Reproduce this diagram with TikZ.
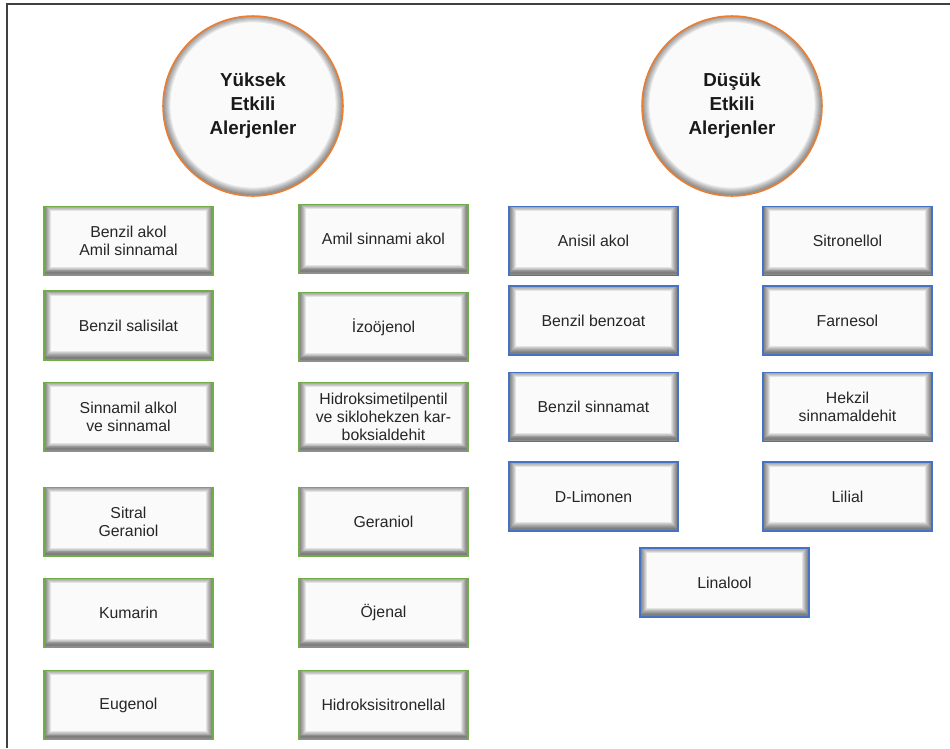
\documentclass[tikz,border=0pt]{standalone}
\usepackage{fontspec}
\setmainfont{Liberation Sans}
\definecolor{hiGreen}{HTML}{70AD47}
\definecolor{loBlue}{HTML}{4472C4}
\definecolor{ringOrange}{HTML}{ED7D31}
\definecolor{frameGray}{HTML}{404040}

\begin{document}
\begin{tikzpicture}[x=0.02cm,y=-0.02cm,
    boxglow/.style={path picture={
        \foreach \w in {1,...,7}
          \draw[black,opacity=0.09,line width=\w*1.1pt]
            ([yshift=1.2pt]path picture bounding box.south west) rectangle
            ([yshift=1.2pt]path picture bounding box.north east);
    }},
    ringglow/.style={path picture={
        \foreach \w in {1,...,7}
          \draw[black,opacity=0.07,line width=\w*1.2pt]
            ([yshift=0.6pt]path picture bounding box.center) circle (1.8cm);
    }},
    chem/.style={rectangle,draw,line width=0.9pt,fill=black!2,
        minimum width=3.38cm,minimum height=1.38cm,inner sep=1pt,
        align=center,text=black!85,font=\fontsize{9}{10.4}\selectfont,boxglow},
    highbox/.style={chem,draw=hiGreen},
    lowbox/.style={chem,draw=loBlue},
    group/.style={circle,draw=ringOrange,line width=0.9pt,fill=black!2,
        minimum size=3.6cm,align=center,text=black!90,
        font=\fontsize{10.7}{13.6}\selectfont\bfseries,ringglow}]

    \useasboundingbox (0,0) rectangle (950,748);

    % frame
    \draw[frameGray,line width=0.9pt] (950,4) -- (7,4) -- (7,748);

    % groups
    \node[group] (yuksek) at (253,106) {Yüksek\\Etkili\\Alerjenler};
    \node[group] (dusuk) at (732,106) {Düşük\\Etkili\\Alerjenler};

    % high impact, first column
    \node[highbox] (benzilakol) at (128.5,241) {Benzil akol\\Amil sinnamal};
    \node[highbox] (salisilat) at (128.5,325.5) {Benzil salisilat};
    \node[highbox] (sinnamil) at (128.5,417) {Sinnamil alkol\\ve sinnamal};
    \node[highbox] (sitral) at (128.5,522) {Sitral\\Geraniol};
    \node[highbox] (kumarin) at (128.5,613) {Kumarin};
    \node[highbox] (eugenol) at (128.5,705) {Eugenol};

    % high impact, second column
    \node[highbox] (amilakol) at (383.5,239) {Amil sinnami akol};
    \node[highbox] (izoojenol) at (383.5,327) {İzoöjenol};
    \node[highbox] (hidroksi) at (383.5,417) {Hidroksimetilpentil\\ve siklohekzen kar-\\boksialdehit};
    \node[highbox] (geraniol) at (383.5,522) {Geraniol};
    \node[highbox] (ojenal) at (383.5,613) {Öjenal};
    \node[highbox] (sitronellal) at (383.5,705) {Hidroksisitronellal};

    % low impact
    \node[lowbox] (anisil) at (593.5,241) {Anisil akol};
    \node[lowbox] (benzoat) at (593.5,320.5) {Benzil benzoat};
    \node[lowbox] (sinnamat) at (593.5,407) {Benzil sinnamat};
    \node[lowbox] (limonen) at (593.5,496.5) {D-Limonen};
    \node[lowbox] (sitronellol) at (847.5,241) {Sitronellol};
    \node[lowbox] (farnesol) at (847.5,320.5) {Farnesol};
    \node[lowbox] (hekzil) at (847.5,407) {Hekzil\\sinnamaldehit};
    \node[lowbox] (lilial) at (847.5,496.5) {Lilial};
    \node[lowbox] (linalool) at (724.5,582.5) {Linalool};
\end{tikzpicture}
\end{document}
